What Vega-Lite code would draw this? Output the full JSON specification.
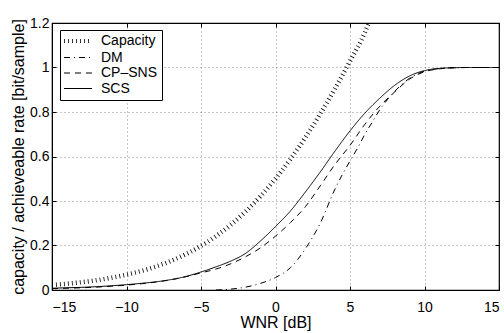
{
  "$schema": "https://vega.github.io/schema/vega-lite/v6.json",
  "autosize": "none",
  "width": 447,
  "height": 267,
  "padding": {"left": 52, "top": 23, "right": 5, "bottom": 43},
  "background": "white",
  "config": {
    "font": "Liberation Sans",
    "view": {"stroke": "#000", "strokeWidth": 1.2},
    "axis": {
      "labelFont": "Liberation Sans",
      "titleFont": "Liberation Sans",
      "labelFontSize": 14,
      "titleFontSize": 16,
      "titleFontWeight": "normal",
      "labelColor": "#000",
      "titleColor": "#000",
      "domainColor": "#000",
      "tickColor": "#000",
      "gridColor": "#000",
      "gridOpacity": 0.45,
      "gridDash": [1, 3],
      "tickSize": -4
    },
    "legend": {
      "labelFont": "Liberation Sans",
      "labelFontSize": 14,
      "labelColor": "#000"
    }
  },
  "data": {
    "values": [
      {"series": "Capacity", "wnr": -15, "rate": 0.0225},
      {"series": "Capacity", "wnr": -14, "rate": 0.0282},
      {"series": "Capacity", "wnr": -13, "rate": 0.0353},
      {"series": "Capacity", "wnr": -12, "rate": 0.0441},
      {"series": "Capacity", "wnr": -11, "rate": 0.0551},
      {"series": "Capacity", "wnr": -10, "rate": 0.0688},
      {"series": "Capacity", "wnr": -9, "rate": 0.0855},
      {"series": "Capacity", "wnr": -8, "rate": 0.1061},
      {"series": "Capacity", "wnr": -7, "rate": 0.1312},
      {"series": "Capacity", "wnr": -6, "rate": 0.1616},
      {"series": "Capacity", "wnr": -5, "rate": 0.1982},
      {"series": "Capacity", "wnr": -4, "rate": 0.2417},
      {"series": "Capacity", "wnr": -3, "rate": 0.293},
      {"series": "Capacity", "wnr": -2, "rate": 0.3528},
      {"series": "Capacity", "wnr": -1, "rate": 0.4217},
      {"series": "Capacity", "wnr": 0, "rate": 0.5},
      {"series": "Capacity", "wnr": 1, "rate": 0.5878},
      {"series": "Capacity", "wnr": 2, "rate": 0.685},
      {"series": "Capacity", "wnr": 3, "rate": 0.7913},
      {"series": "Capacity", "wnr": 4, "rate": 0.9061},
      {"series": "Capacity", "wnr": 5, "rate": 1.0286},
      {"series": "Capacity", "wnr": 6, "rate": 1.1582},
      {"series": "Capacity", "wnr": 6.25, "rate": 1.2},

      {"series": "DM", "wnr": -4, "rate": 0.0},
      {"series": "DM", "wnr": -3, "rate": 0.004},
      {"series": "DM", "wnr": -2, "rate": 0.013},
      {"series": "DM", "wnr": -1, "rate": 0.03},
      {"series": "DM", "wnr": 0, "rate": 0.056},
      {"series": "DM", "wnr": 1, "rate": 0.1},
      {"series": "DM", "wnr": 2, "rate": 0.185},
      {"series": "DM", "wnr": 3, "rate": 0.3},
      {"series": "DM", "wnr": 4, "rate": 0.455},
      {"series": "DM", "wnr": 5, "rate": 0.58},
      {"series": "DM", "wnr": 5.5, "rate": 0.637},
      {"series": "DM", "wnr": 6, "rate": 0.7},
      {"series": "DM", "wnr": 6.5, "rate": 0.755},
      {"series": "DM", "wnr": 7, "rate": 0.81},
      {"series": "DM", "wnr": 7.5, "rate": 0.855},
      {"series": "DM", "wnr": 8, "rate": 0.893},
      {"series": "DM", "wnr": 8.5, "rate": 0.925},
      {"series": "DM", "wnr": 9, "rate": 0.952},
      {"series": "DM", "wnr": 9.5, "rate": 0.97},
      {"series": "DM", "wnr": 10, "rate": 0.984},
      {"series": "DM", "wnr": 11, "rate": 0.995},
      {"series": "DM", "wnr": 12, "rate": 0.999},
      {"series": "DM", "wnr": 13, "rate": 1.0},
      {"series": "DM", "wnr": 15, "rate": 1.0},

      {"series": "CP–SNS", "wnr": -15, "rate": 0.006},
      {"series": "CP–SNS", "wnr": -14, "rate": 0.008},
      {"series": "CP–SNS", "wnr": -13, "rate": 0.01},
      {"series": "CP–SNS", "wnr": -12, "rate": 0.013},
      {"series": "CP–SNS", "wnr": -11, "rate": 0.017},
      {"series": "CP–SNS", "wnr": -10, "rate": 0.022},
      {"series": "CP–SNS", "wnr": -9, "rate": 0.028},
      {"series": "CP–SNS", "wnr": -8, "rate": 0.036},
      {"series": "CP–SNS", "wnr": -7, "rate": 0.046},
      {"series": "CP–SNS", "wnr": -6, "rate": 0.06},
      {"series": "CP–SNS", "wnr": -5, "rate": 0.077},
      {"series": "CP–SNS", "wnr": -4, "rate": 0.094},
      {"series": "CP–SNS", "wnr": -3, "rate": 0.118},
      {"series": "CP–SNS", "wnr": -2, "rate": 0.15},
      {"series": "CP–SNS", "wnr": -1, "rate": 0.19},
      {"series": "CP–SNS", "wnr": 0, "rate": 0.242},
      {"series": "CP–SNS", "wnr": 1, "rate": 0.303},
      {"series": "CP–SNS", "wnr": 2, "rate": 0.374},
      {"series": "CP–SNS", "wnr": 3, "rate": 0.468},
      {"series": "CP–SNS", "wnr": 4, "rate": 0.565},
      {"series": "CP–SNS", "wnr": 5, "rate": 0.65},
      {"series": "CP–SNS", "wnr": 6, "rate": 0.745},
      {"series": "CP–SNS", "wnr": 7, "rate": 0.826},
      {"series": "CP–SNS", "wnr": 8, "rate": 0.89},
      {"series": "CP–SNS", "wnr": 9, "rate": 0.948},
      {"series": "CP–SNS", "wnr": 10, "rate": 0.981},
      {"series": "CP–SNS", "wnr": 11, "rate": 0.994},
      {"series": "CP–SNS", "wnr": 12, "rate": 0.999},
      {"series": "CP–SNS", "wnr": 13, "rate": 1.0},
      {"series": "CP–SNS", "wnr": 15, "rate": 1.0},

      {"series": "SCS", "wnr": -15, "rate": 0.008},
      {"series": "SCS", "wnr": -14, "rate": 0.01},
      {"series": "SCS", "wnr": -13, "rate": 0.012},
      {"series": "SCS", "wnr": -12, "rate": 0.015},
      {"series": "SCS", "wnr": -11, "rate": 0.019},
      {"series": "SCS", "wnr": -10, "rate": 0.024},
      {"series": "SCS", "wnr": -9, "rate": 0.03},
      {"series": "SCS", "wnr": -8, "rate": 0.037},
      {"series": "SCS", "wnr": -7, "rate": 0.047},
      {"series": "SCS", "wnr": -6, "rate": 0.061},
      {"series": "SCS", "wnr": -5, "rate": 0.081},
      {"series": "SCS", "wnr": -4, "rate": 0.104},
      {"series": "SCS", "wnr": -3, "rate": 0.13},
      {"series": "SCS", "wnr": -2, "rate": 0.165},
      {"series": "SCS", "wnr": -1, "rate": 0.221},
      {"series": "SCS", "wnr": 0, "rate": 0.285},
      {"series": "SCS", "wnr": 1, "rate": 0.355},
      {"series": "SCS", "wnr": 2, "rate": 0.44},
      {"series": "SCS", "wnr": 3, "rate": 0.53},
      {"series": "SCS", "wnr": 4, "rate": 0.625},
      {"series": "SCS", "wnr": 5, "rate": 0.715},
      {"series": "SCS", "wnr": 6, "rate": 0.795},
      {"series": "SCS", "wnr": 7, "rate": 0.862},
      {"series": "SCS", "wnr": 8, "rate": 0.92},
      {"series": "SCS", "wnr": 9, "rate": 0.962},
      {"series": "SCS", "wnr": 10, "rate": 0.986},
      {"series": "SCS", "wnr": 11, "rate": 0.996},
      {"series": "SCS", "wnr": 12, "rate": 0.999},
      {"series": "SCS", "wnr": 13, "rate": 1.0},
      {"series": "SCS", "wnr": 15, "rate": 1.0}
    ]
  },
  "resolve": {"axis": {"x": "independent", "y": "independent"}},
  "layer": [
    {
      "mark": {"type": "line", "interpolate": "monotone", "clip": true, "color": "#000"},
      "encoding": {
        "x": {
          "field": "wnr", "type": "quantitative",
          "scale": {"domain": [-15, 15], "nice": false},
          "axis": {
            "title": "WNR [dB]",
            "values": [-15, -10, -5, 0, 5, 10, 15],
            "labelExpr": "replace(format(datum.value, 'd'), '-', '–')",
            "labelPadding": 14,
            "titlePadding": 0,
            "grid": true
          }
        },
        "y": {
          "field": "rate", "type": "quantitative",
          "scale": {"domain": [0, 1.2], "nice": false},
          "axis": {
            "title": "capacity / achieveable rate [bit/sample]",
            "values": [0, 0.2, 0.4, 0.6, 0.8, 1, 1.2],
            "labelExpr": "format(datum.value, '.2~f')",
            "labelPadding": 7,
            "titlePadding": 3,
            "grid": true
          }
        },
        "strokeDash": {
          "field": "series", "type": "nominal",
          "scale": {
            "domain": ["Capacity", "DM", "CP–SNS", "SCS"],
            "range": [[0.8, 3.2], [6, 4, 1, 4], [6, 5], [1, 0]]
          },
          "legend": {
            "title": null,
            "orient": "none",
            "legendX": 8,
            "legendY": 7,
            "symbolType": "M-1,0H3",
            "symbolSize": 196,
            "symbolStrokeColor": "#000",
            "symbolStrokeWidth": 1,
            "labelOffset": 23,
            "rowPadding": 1.5,
            "padding": 4,
            "strokeColor": "#000",
            "fillColor": "#fff",
            "encode": {
              "symbols": {"update": {"strokeWidth": {"signal": "datum.value === 'Capacity' ? 4 : 1"}}}
            }
          }
        },
        "strokeWidth": {
          "condition": {"test": "datum.series === 'Capacity'", "value": 4.5},
          "value": 1
        }
      }
    },
    {
      "mark": {"type": "line", "opacity": 0},
      "encoding": {
        "x": {
          "field": "wnr", "type": "quantitative",
          "scale": {"domain": [-15, 15], "nice": false},
          "axis": {"orient": "top", "title": null, "labels": false, "domain": false, "grid": false, "values": [-15, -10, -5, 0, 5, 10, 15]}
        },
        "y": {
          "field": "rate", "type": "quantitative",
          "scale": {"domain": [0, 1.2], "nice": false},
          "axis": {"orient": "right", "title": null, "labels": false, "domain": false, "grid": false, "values": [0, 0.2, 0.4, 0.6, 0.8, 1, 1.2]}
        },
        "detail": {"field": "series", "type": "nominal"}
      }
    }
  ]
}
